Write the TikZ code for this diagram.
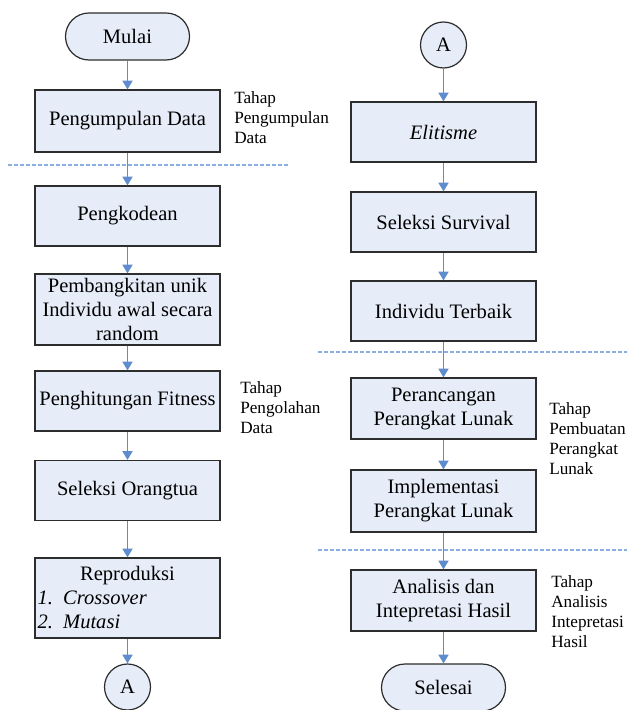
\documentclass[tikz,border=0pt]{standalone}
\usepackage{fontspec}
\setmainfont{Liberation Serif}
\usepackage{tikz}
\usetikzlibrary{arrows.meta,positioning,calc}
\definecolor{boxfill}{RGB}{231,237,248}
\definecolor{boxline}{RGB}{45,45,45}
\definecolor{flowc}{RGB}{95,140,205}
\definecolor{sepc}{RGB}{140,175,225}

\begin{document}
\begin{tikzpicture}[x=0.75pt,y=-0.75pt,
    proc/.style={draw=boxline,fill=boxfill,line width=0.9pt,inner sep=0pt,align=center,
      minimum width=138.75pt,minimum height=45pt,font=\fontsize{15.4pt}{18pt}\selectfont},
    term/.style={proc,rounded corners=17.6pt,minimum width=93pt,minimum height=35.25pt},
    conn/.style={draw=boxline,fill=boxfill,line width=0.9pt,circle,inner sep=0pt,
      minimum size=34.5pt,font=\fontsize{15.4pt}{18pt}\selectfont},
    tahap/.style={anchor=west,align=left,inner sep=0pt,font=\fontsize{12.9pt}{15pt}\selectfont},
    flow/.style={-{Triangle[length=6.5pt,width=7.5pt]},flowc,line width=1.1pt},
    sep/.style={sepc,line width=0.9pt,dash pattern=on 3pt off 1.5pt}]
  \useasboundingbox (0,0) rectangle (627,710);
  % ---- left column ----
  \node[term] (mulai) at (127.5,36.5) {Mulai};
  \node[proc,minimum height=46.5pt] (kumpul) at (127.5,121) {Pengumpulan Data};
  \node[proc] (kode) at (127.5,216) {Pengkodean};
  \node[proc,minimum height=53.25pt] (bangkit) at (127.5,309.5) {Pembangkitan unik\\Individu awal secara\\random};
  \node[proc] (fitness) at (127.5,401) {Penghitungan Fitness};
  \node[proc] (ortu) at (127.5,490.5) {Seleksi Orangtua};
  \node[proc,minimum height=60pt,text width=135pt,align=left] (repro) at (127.5,598)
      {\makebox[\linewidth]{Reproduksi}\\\textit{1. Crossover}\\\textit{2. Mutasi}};
  \node[conn] (conA) at (127.5,687) {A};
  % ---- right column ----
  \node[conn] (conB) at (443.5,45) {A};
  \node[proc] (elit) at (443.5,132) {\textit{Elitisme}};
  \node[proc] (survival) at (443.5,222) {Seleksi Survival};
  \node[proc] (terbaik) at (443.5,311) {Individu Terbaik};
  \node[proc,minimum height=45.75pt] (rancang) at (443.5,408.5) {Perancangan\\Perangkat Lunak};
  \node[proc,minimum height=46.5pt] (implem) at (443.5,501) {Implementasi\\Perangkat Lunak};
  \node[proc,minimum height=45.75pt] (analisis) at (443.5,600.5) {Analisis dan\\Intepretasi Hasil};
  \node[term] (selesai) at (443.5,687.5) {Selesai};
  % ---- stage separators ----
  \draw[sep] (8,165) -- (288,165);
  \draw[sep] (318,352) -- (627,352);
  \draw[sep] (318,550) -- (627,550);
  % ---- stage labels ----
  \node[tahap] (tkumpul) at (234,118) {Tahap\\Pengumpulan\\Data};
  \node[tahap] (tolah) at (240,408) {Tahap\\Pengolahan\\Data};
  \node[tahap] (tbuat) at (549,439) {Tahap\\Pembuatan\\Perangkat\\Lunak};
  \node[tahap] (tanalisis) at (551,612) {Tahap\\Analisis\\Intepretasi\\Hasil};
  % ---- flow ----
  \foreach \a/\b in {mulai/kumpul,kumpul/kode,kode/bangkit,bangkit/fitness,fitness/ortu,
      ortu/repro,repro/conA,conB/elit,elit/survival,survival/terbaik,terbaik/rancang,
      rancang/implem,implem/analisis,analisis/selesai}
    \draw[flow] (\a) -- (\b);
\end{tikzpicture}
\end{document}
